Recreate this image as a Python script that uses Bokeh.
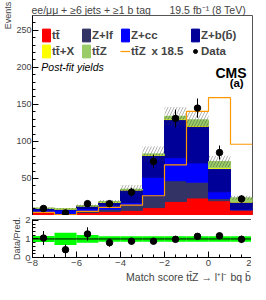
import numpy as np
from bokeh.plotting import figure
from bokeh.models import (Range1d, FixedTicker, Label, Legend, LegendItem, Span,
                          ColumnDataSource, Title)
from bokeh.layouts import column
from bokeh.embed import file_html
from bokeh.resources import INLINE

# ---------------- data ----------------
edges = [-8, -7, -6, -5, -4, -3, -2, -1, 0, 1, 2]
centers = [-7.5, -6.5, -5.5, -4.5, -3.5, -2.5, -1.5, -0.5, 0.5, 1.5]

tt  = [4.3, 2.0, 4.0, 5.6, 7.0, 10.7, 19.0, 23.7, 20.0, 7.3]
zlf = [0.7, 1.0, 1.6, 3.0, 7.5, 16.0, 28.0, 21.3, 3.0, 0.5]
zcc = [2.3, 4.3, 3.9, 4.4, 3.0, 25.0, 31.0, 26.0, 9.0, 0.8]
zbb = [2.2, 1.3, 3.5, 5.0, 17.0, 29.5, 51.5, 49.5, 31.4, 9.5]
ttx = [0.1, 0.1, 0.1, 0.2, 0.3, 0.5, 0.7, 1.0, 1.0, 0.5]
ttz = [0.23, 0.05, 0.3, 0.6, 0.76, 1.44, 3.7, 7.6, 8.6, 5.2]
ttz_scale = 18.5

unc = [1.2, 1.2, 1.6, 2.0, 5.5, 10.0, 12.5, 12.0, 7.5, 3.0]

data     = [9.5, 3.5, 16.0, 16.0, 31.5, 73.0, 131.0, 145.0, 85.0, 22.4]
data_err = [3.2, 2.0, 4.0, 4.0, 6.0, 9.0, 12.0, 13.0, 9.5, 4.8]

ratio     = [1.05, 0.42, 1.27, 0.80, 0.88, 0.88, 0.98, 1.14, 1.17, 0.98]
ratio_err = [0.38, 0.28, 0.36, 0.22, 0.17, 0.11, 0.09, 0.10, 0.13, 0.20]
band      = [0.16, 0.33, 0.21, 0.15, 0.15, 0.15, 0.15, 0.15, 0.15, 0.15]

names  = ["tt", "zlf", "zcc", "zbb", "ttx", "ttz"]
labels = ["tt\u0304", "Z+lf", "Z+cc", "Z+b(b\u0304)", "tt\u0304+X", "tt\u0304Z"]
colors = ["#ff0000", "#333366", "#0000ff", "#000099", "#ffff00", "#99cc66"]

y_ticks = [50, 100, 150, 200, 250]
x_ticks = [-8, -6, -4, -2, 0, 2]
r_ticks = [0, 1, 2]

FONT = "Liberation Sans"
FW = 220
BL = 28

x_title = "Match score tt\u0304Z \u2192 l\u207al\u207b bq b\u0304qq\u0304"


def axis_title(fig, ax, text, align, size, place, standoff=0):
    """Axis title through the axis itself when it can be aligned, else a Title."""
    if "axis_label_align" in ax.properties():
        ax.axis_label = text
        ax.axis_label_align = align
        ax.axis_label_standoff = standoff
        ax.axis_label_text_font = FONT
        ax.axis_label_text_font_size = size
        ax.axis_label_text_font_style = "normal"
    else:
        fig.add_layout(Title(text=text, align={"end": "right", "center": "center"}[align],
                             standoff=0, text_font=FONT, text_font_size=size,
                             text_font_style="normal"), place)


# ---------------- main panel ----------------
xr = Range1d(-8, 2)
p1 = figure(frame_width=FW, frame_height=200, x_range=xr, y_range=Range1d(0, 270),
            output_backend="svg", toolbar_location=None,
            min_border_left=BL, min_border_right=3, min_border_top=15, min_border_bottom=0)
p1.grid.visible = False
p1.outline_line_color = "#555555"
p1.xaxis.visible = False

src = ColumnDataSource(dict(x=centers, tt=tt, zlf=zlf, zcc=zcc, zbb=zbb, ttx=ttx, ttz=ttz))
rs = p1.vbar_stack(names, x="x", width=1.0, color=colors, source=src)

tot = np.array(tt) + np.array(zlf) + np.array(zcc) + np.array(zbb) + np.array(ttx) + np.array(ttz)
u = np.array(unc)
p1.quad(left=edges[:-1], right=edges[1:], bottom=tot - u, top=tot + u,
        fill_color=None, line_color=None, hatch_pattern="/", hatch_color="#333333",
        hatch_alpha=0.75, hatch_scale=6, hatch_weight=0.5)

ttz_line = list(np.array(ttz) * ttz_scale)
r_line = p1.step(x=edges, y=ttz_line + [ttz_line[-1]], mode="after",
                 line_color="#ff9900", line_width=1.2)

p1.segment(x0=centers, y0=np.array(data) - np.array(data_err), x1=centers,
           y1=np.array(data) + np.array(data_err), line_color="black", line_width=1)
r_data = p1.scatter(centers, data, size=6.5, color="black")

ya = p1.yaxis[0]
ya.ticker = FixedTicker(ticks=y_ticks, minor_ticks=list(range(10, 270, 10)))
ya.major_tick_in = 6
ya.major_tick_out = 0
ya.minor_tick_in = 3
ya.minor_tick_out = 0
ya.major_label_standoff = 1
ya.major_label_text_font = FONT
ya.major_label_text_font_size = "9px"
ya.axis_line_color = "black"
axis_title(p1, ya, "Events", "end", "9px", "left")

p1.add_layout(Title(text="ee/\u03bc\u03bc + \u22656 jets + \u22651 b tag"
                         "\u2002\u2002\u2002 19.5 fb\u207b\u00b9 (8 TeV)",
                    align="left", offset=-1, standoff=0, text_font=FONT,
                    text_font_size="10.5px", text_font_style="normal"), "above")


def lab(fig, x, y, text, size, style="normal", align="left", baseline="alphabetic"):
    fig.add_layout(Label(x=x, y=y, text=text, text_font=FONT, text_font_size=size,
                         text_font_style=style, text_align=align, text_baseline=baseline,
                         text_color="black"))


lab(p1, -7.6, 200, "Post-fit yields", "10.5px", style="italic", baseline="middle")
lab(p1, 1.73, 192.5, "CMS", "14px", style="bold", align="right")
lab(p1, 1.6, 179.5, "(a)", "11.5px", style="bold", align="right")


def mk_legend(items, loc):
    leg = Legend(items=items, location=loc, orientation="vertical",
                 border_line_color=None, background_fill_alpha=0, padding=0, margin=0,
                 spacing=0, glyph_width=10, glyph_height=16, label_standoff=1,
                 label_height=16, label_text_font=FONT, label_text_font_size="11.5px",
                 label_text_font_style="bold", label_text_baseline="middle")
    p1.add_layout(leg)


LY = 156
mk_legend([LegendItem(label=labels[0], renderers=[rs[0]]),
           LegendItem(label=labels[4], renderers=[rs[4]])], (9, LY))
mk_legend([LegendItem(label=labels[1], renderers=[rs[1]]),
           LegendItem(label=labels[5], renderers=[rs[5]])], (49, LY))
mk_legend([LegendItem(label=labels[2], renderers=[rs[2]]),
           LegendItem(label="tt\u0304Z\u2002x 18.5", renderers=[r_line])], (88, LY))
mk_legend([LegendItem(label=labels[3], renderers=[rs[3]]),
           LegendItem(label="Data", renderers=[r_data])], (158, LY))

# ---------------- ratio panel ----------------
p2 = figure(frame_width=FW, frame_height=38, x_range=xr, y_range=Range1d(0, 2.05),
            output_backend="svg", toolbar_location=None,
            min_border_left=BL, min_border_right=3, min_border_top=4, min_border_bottom=27)
p2.grid.visible = False
p2.outline_line_color = "#555555"

b = np.array(band)
p2.quad(left=edges[:-1], right=edges[1:], bottom=1 - b, top=1 + b,
        fill_color="#00ff00", line_color=None)
p2.add_layout(Span(location=1, dimension="width", line_color="black", line_width=1))
p2.segment(x0=centers, y0=np.array(ratio) - np.array(ratio_err), x1=centers,
           y1=np.array(ratio) + np.array(ratio_err), line_color="black", line_width=1)
p2.scatter(centers, ratio, size=6.5, color="black")

ya2 = p2.yaxis[0]
ya2.ticker = FixedTicker(ticks=r_ticks, minor_ticks=list(np.arange(0, 2.05, 0.2)))
ya2.major_tick_in = 6
ya2.major_tick_out = 0
ya2.minor_tick_in = 3
ya2.minor_tick_out = 0
ya2.major_label_standoff = 2
ya2.major_label_text_font = FONT
ya2.major_label_text_font_size = "9.5px"
axis_title(p2, ya2, "Data/Pred.", "center", "9px", "left")

xa2 = p2.xaxis[0]
xa2.ticker = FixedTicker(ticks=x_ticks, minor_ticks=list(np.arange(-8, 2.01, 0.5)))
xa2.major_tick_in = 6
xa2.major_tick_out = 0
xa2.minor_tick_in = 3
xa2.minor_tick_out = 0
xa2.major_label_standoff = 2
xa2.major_label_text_font = FONT
xa2.major_label_text_font_size = "9.5px"

p2.add_layout(Title(text=x_title, align="right", offset=-10, standoff=0, text_font=FONT,
                    text_font_size="10.5px", text_font_style="normal"), "below")

layout = column(p1, p2, spacing=0)
open("out.html", "w").write(file_html(layout, INLINE))
